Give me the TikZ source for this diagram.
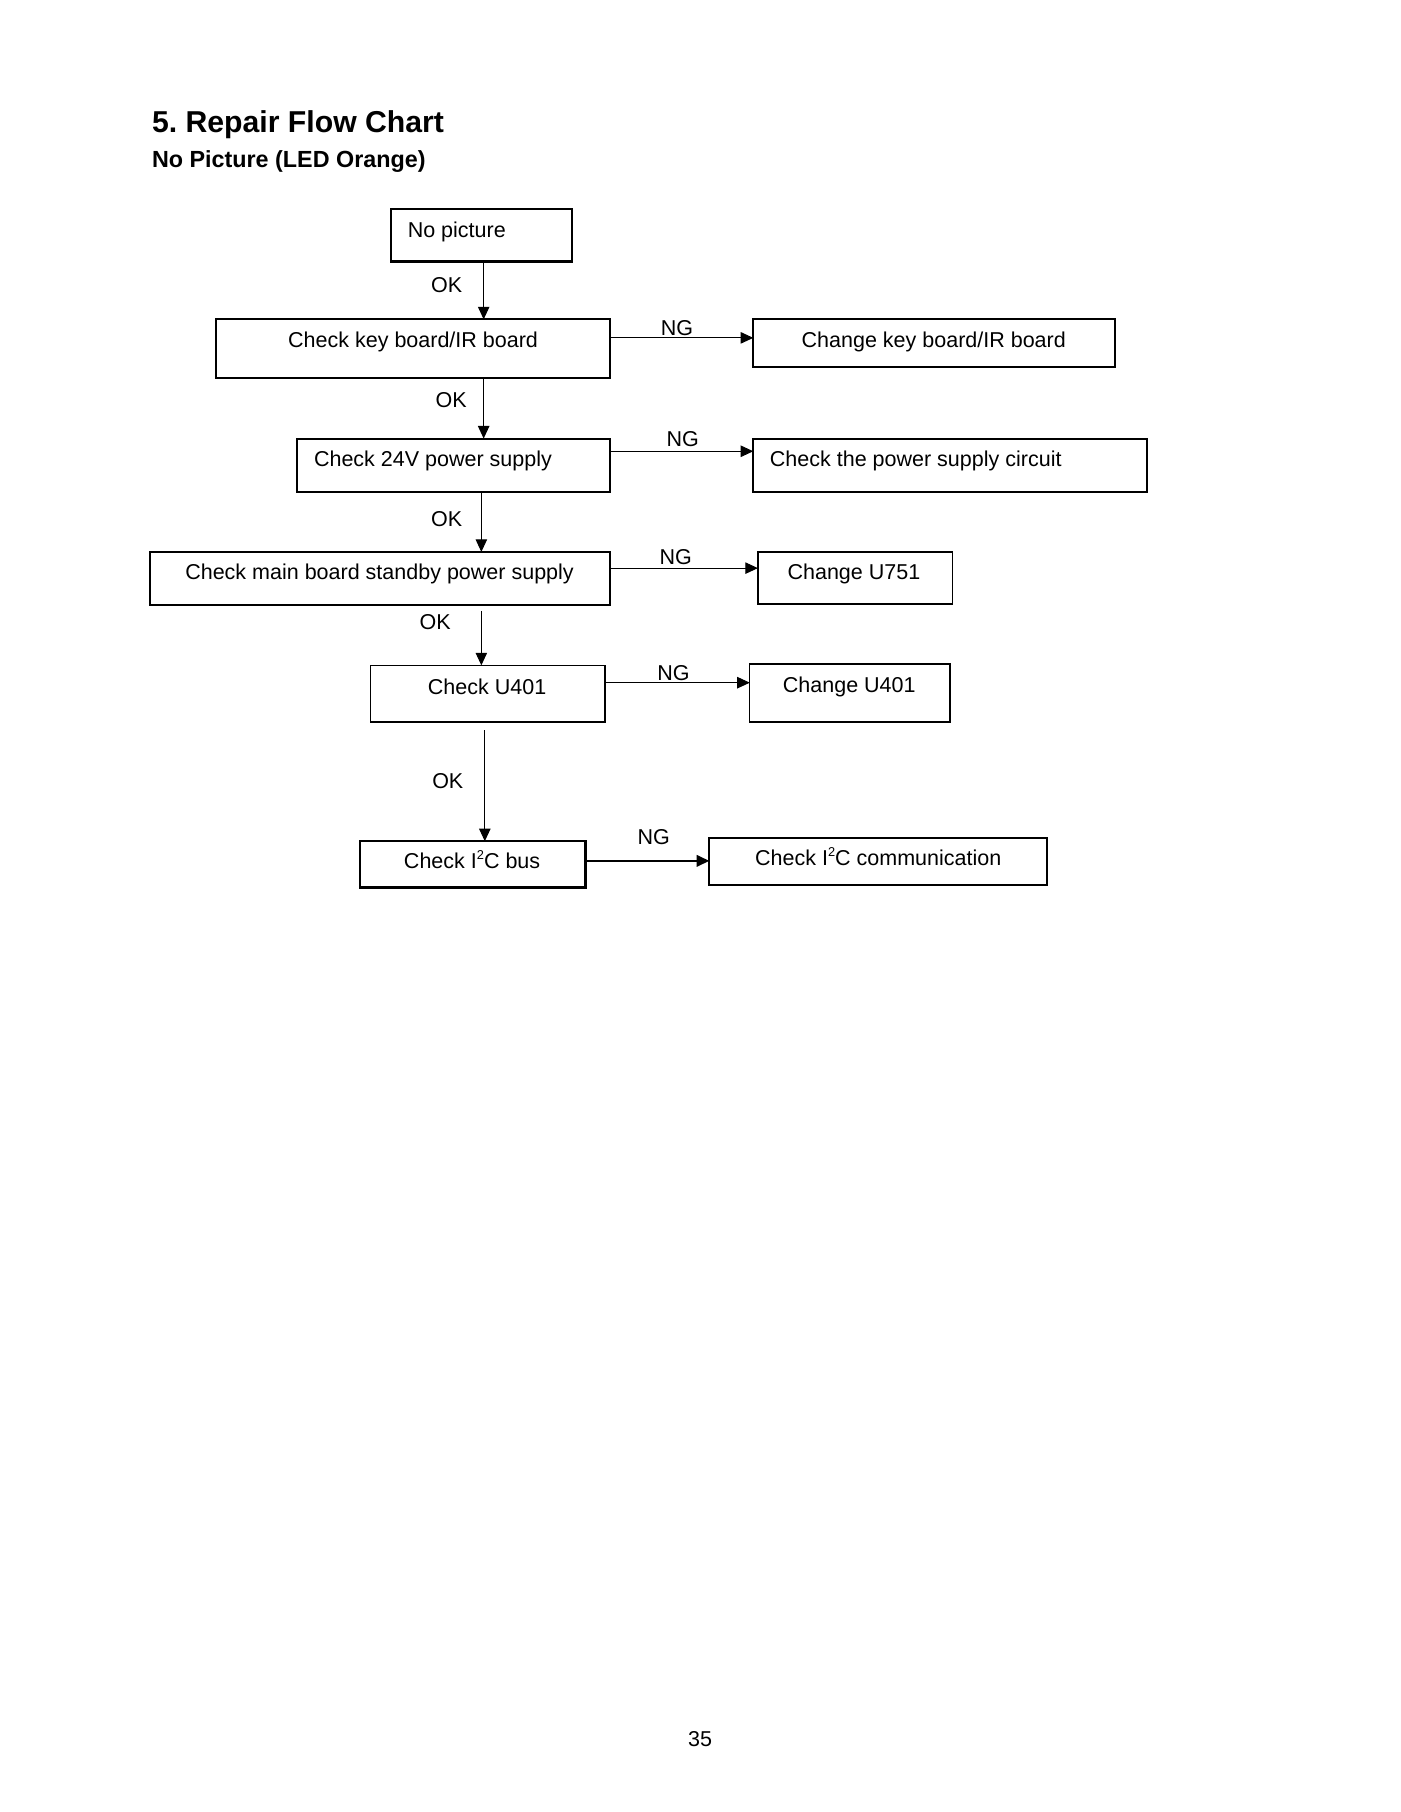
\documentclass[tikz,border=0pt]{standalone}
\usepackage{fontspec}
\setmainfont{Liberation Sans}
\usetikzlibrary{arrows.meta}
\newcommand\pxu{0.5058pt}
\newcommand\smalltwo{\raisebox{0.75ex}{\fontsize{5.6}{6}\selectfont 2}}
\begin{document}
\begin{tikzpicture}[x=0.5058pt,y=-0.5058pt,
  box/.style={draw=black,line width=0.9pt,inner sep=0pt,outer sep=0pt,anchor=north west},
  thinbox/.style={box,line width=0.6pt},
  txt/.style={inner sep=0pt,font=\fontsize{9.4}{11}\selectfont},
  arr/.style={draw=black,line width=0.45pt,-{Triangle[length=5.5pt,width=5pt]}},
  lbl/.style={txt,anchor=base}]
\useasboundingbox (0,0) rectangle (1210,1566);
\fill[white] (0,0) rectangle (1210,1566);

% titles
\node[inner sep=0pt,anchor=base west,font=\fontsize{13.2}{15}\selectfont\bfseries] (title) at (131,114.4) {5.\ Repair Flow Chart};
\node[inner sep=0pt,anchor=base west,font=\fontsize{10.2}{12}\selectfont\bfseries] (subtitle) at (131,144.6) {No Picture (LED Orange)};

% boxes
\node[box,minimum width=156*\pxu,minimum height=45*\pxu] (np) at (338,181) {};
\node[box,minimum width=340*\pxu,minimum height=51*\pxu] (ck) at (187,276) {};
\node[box,minimum width=313*\pxu,minimum height=41*\pxu] (chk) at (651,276) {};
\node[box,minimum width=270*\pxu,minimum height=46*\pxu] (p24) at (257,379) {};
\node[box,minimum width=340*\pxu,minimum height=46*\pxu] (psc) at (651,379) {};
\node[box,minimum width=397*\pxu,minimum height=46*\pxu] (mb) at (130,477) {};
\node[thinbox,minimum width=168*\pxu,minimum height=45*\pxu] (u751) at (655,477) {};
\node[thinbox,minimum width=203*\pxu,minimum height=49*\pxu] (cu) at (320,575) {};
\node[thinbox,minimum width=173*\pxu,minimum height=50*\pxu] (u401) at (648,574) {};
\node[box,minimum width=195*\pxu,minimum height=40*\pxu] (i2c) at (311,727) {};
\node[box,minimum width=292*\pxu,minimum height=41*\pxu] (i2cc) at (613,724) {};

% box texts
\node[txt,anchor=base west] (npt) at (352,205) {No picture};
\node[txt,anchor=base] (ckt) at (357,300.5) {Check key board/IR board};
\node[txt,anchor=base] (chkt) at (807,300.5) {Change key board/IR board};
\node[txt,anchor=base west] (p24t) at (271,403) {Check 24V power supply};
\node[txt,anchor=base west] (psct) at (665,403) {Check the power supply circuit};
\node[txt,anchor=base] (mbt) at (328,500.7) {Check main board standby power supply};
\node[txt,anchor=base] (u751t) at (738,500.4) {Change U751};
\node[txt,anchor=base] (cut) at (421,600) {Check U401};
\node[txt,anchor=base] (u401t) at (734,598.7) {Change U401};
\node[txt,anchor=base] (i2ct) at (408,750.5) {Check I\smalltwo C bus};
\node[txt,anchor=base] (i2cct) at (759,747.6) {Check I\smalltwo C communication};

% column / row coordinates for connectors
\coordinate (c1) at (418,0);
\coordinate (c3) at (416,0);
\coordinate (c5) at (419,0);
\coordinate (r1) at (0,292);
\coordinate (r2) at (0,390);
\coordinate (r3) at (0,491);
\coordinate (r4) at (0,590);
\coordinate (r5) at (0,744);

% OK arrows
\draw[arr] (np.south -| c1) -- (ck.north -| c1);
\draw[arr] (ck.south -| c1) -- (p24.north -| c1);
\draw[arr] (p24.south -| c3) -- (mb.north -| c3);
\draw[arr,shorten <=5*\pxu] (mb.south -| c3) -- (cu.north -| c3);
\draw[arr,shorten <=7*\pxu] (cu.south -| c5) -- (i2c.north -| c5);

% NG arrows
\draw[arr] (ck.east |- r1) -- (chk.west |- r1);
\draw[arr] (p24.east |- r2) -- (psc.west |- r2);
\draw[arr] (mb.east |- r3) -- (u751.west |- r3);
\draw[arr] (cu.east |- r4) -- (u401.west |- r4);
\draw[arr,line width=0.9pt] (i2c.east |- r5) -- (i2cc.west |- r5);

% labels
\node[lbl] (ok1) at (386,252.7) {OK};
\node[lbl] (ok2) at (390,352) {OK};
\node[lbl] (ok3) at (386,455) {OK};
\node[lbl] (ok4) at (376,544) {OK};
\node[lbl] (ok5) at (387,681.4) {OK};
\node[lbl] (ng1) at (585,290) {NG};
\node[lbl] (ng2) at (590,385.5) {NG};
\node[lbl] (ng3) at (584,488) {NG};
\node[lbl] (ng4) at (582,588) {NG};
\node[lbl] (ng5) at (565,730) {NG};

% page number
\node[lbl] (page) at (605,1509) {35};
\end{tikzpicture}
\end{document}
